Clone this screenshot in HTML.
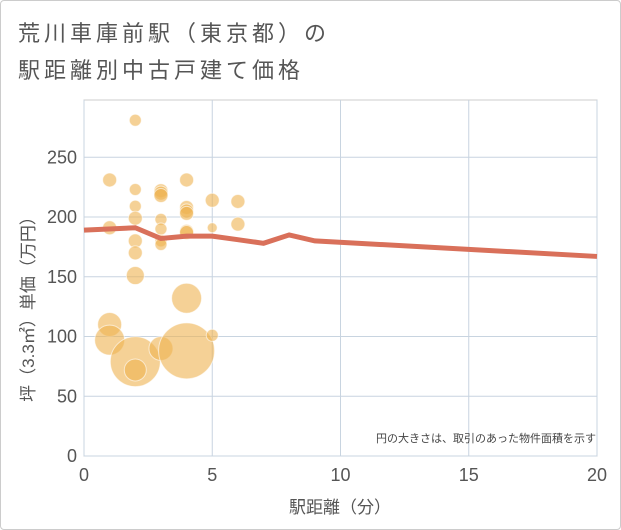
<!DOCTYPE html>
<html><head><meta charset="utf-8"><style>
body{margin:0;background:#fff;font-family:"Liberation Sans","Noto Sans CJK JP",sans-serif;}
.w{position:relative;width:619px;height:528px;border:1px solid #ccc;border-radius:4px;background:#fff;}
</style></head><body>
<div class="w">
<svg width="621" height="530" style="position:absolute;left:-1px;top:-1px">
<text x="18" y="41" font-size="22" letter-spacing="4" fill="#555">荒川車庫前駅（東京都）の</text>
<text x="18" y="78" font-size="22" letter-spacing="4" fill="#555">駅距離別中古戸建て価格</text>
<g id="grid"></g><g id="bubbles"></g><g id="line"></g><g id="axes"></g>
<text x="596" y="442" font-size="11" fill="#444" text-anchor="end">円の大きさは、取引のあった物件面積を示す</text>
<text x="340" y="513" font-size="17" fill="#555" text-anchor="middle">駅距離（分）</text>
<text transform="translate(34,305) rotate(-90)" font-size="17" fill="#555" text-anchor="middle">坪（3.3㎡）単価（万円）</text>
</svg></div>
<script>
const xTicks=[0,5,10,15,20];
const yTicks=[0,50,100,150,200,250];
const bx=[1,1,1,1,2,2,2,2,2,2,2,2,2,3,3,3,3,3,3,3,3,4,4,4,4,4,4,4,4,5,5,5,6,6];
const by=[231,191,110,97,281,223,209,199,180,170,151,79,72,222,220,218,198,190,180,177,90,231,208,205,203,188,187,132,88,214,191,101,213,194];
const br=[7,7,12,15,6,6,6,7,7,7,9,25,11,7,7,7,6,6,6,6,12,7,7,7,7,7,7,15,28,7,5,6,7,7];
const lx=[0,2,3,4,5,6,7,8,9,20];
const ly=[189,191,182,184,184,181,178,185,180,167];
const X=v=>84+v*(597-84)/20, Y=v=>456-v*1.195;
const ns='http://www.w3.org/2000/svg';
function mk(p,t,a){const e=document.createElementNS(ns,t);for(const k in a)e.setAttribute(k,a[k]);document.getElementById(p).appendChild(e);return e;}
let r=mk('grid','rect',{x:84,y:100,width:513,height:356,fill:'none',stroke:'#ccc'});


xTicks.forEach(t=>{const l=mk('grid','line',{x1:X(t),x2:X(t),y1:100,y2:456,stroke:'#c8d4e0'});


const s=mk('axes','text',{x:X(t),y:481,'font-size':18,fill:'#555','text-anchor':'middle'});s.textContent=t;

});
yTicks.forEach(t=>{const l=mk('grid','line',{x1:84,x2:597,y1:Y(t),y2:Y(t),stroke:'#c8d4e0'});


const s=mk('axes','text',{x:77,y:Y(t)+6,'font-size':18,fill:'#555','text-anchor':'end'});s.textContent=t;

});
bx.forEach((v,i)=>{const c=mk('bubbles','circle',{cx:X(v),cy:Y(by[i]),r:br[i],fill:'rgba(238,178,80,0.6)',stroke:'rgba(255,255,255,0.6)'});

});
const p=mk('line','polyline',{points:lx.map((v,i)=>X(v)+','+Y(ly[i])).join(' '),fill:'none',stroke:'#d9705a','stroke-width':5});


</script></body></html>
